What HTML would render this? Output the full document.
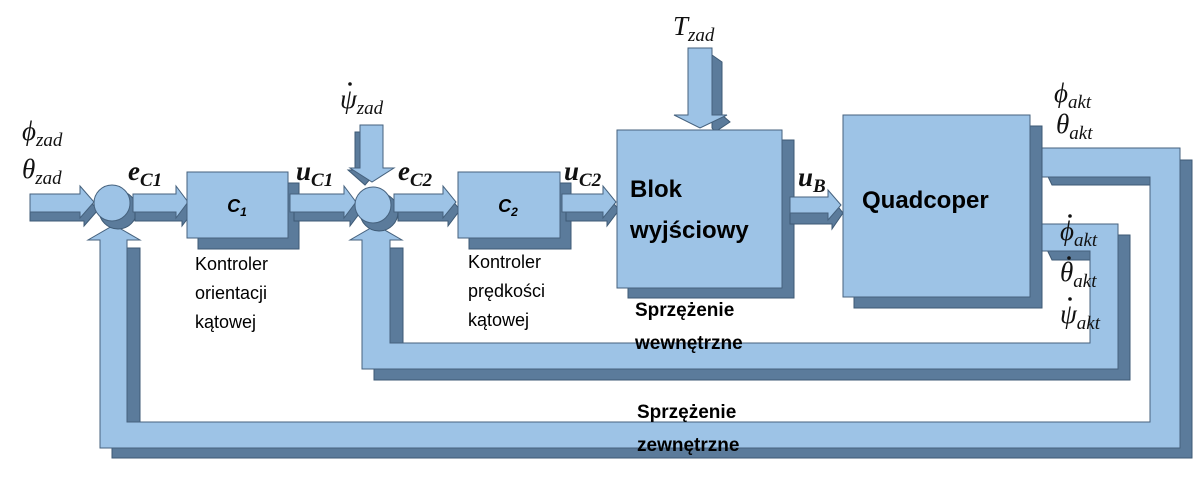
<!DOCTYPE html>
<html><head><meta charset="utf-8"><style>
html,body{margin:0;padding:0;background:#fff}
svg{display:block}
.m{font-family:"Liberation Serif",serif;font-style:italic;font-size:27px;fill:#111}
.s{font-size:19px}
.b{font-weight:bold}
.lab{font-family:"Liberation Sans",sans-serif;font-size:18px;fill:#000}
.bl{font-family:"Liberation Sans",sans-serif;font-weight:bold;fill:#000}
</style></head><body>
<svg width="1202" height="480" viewBox="0 0 1202 480" xmlns="http://www.w3.org/2000/svg">
<defs>
<style>.L{fill:#9dc3e6;stroke:#46627e;stroke-width:1}.D{fill:#5b7b9b;stroke:#3e5a75;stroke-width:1}</style>
</defs>

<!-- outer feedback loop -->
<polygon class="D" points="1040,160 1192,160 1192,458 112,458 112,248 140,248 140,436 1150,436 1150,185 1052,185"/>
<polygon class="L" points="1030,148 1180,148 1180,448 100,448 100,240 88,240 114,225 140,240 127,240 127,422 1150,422 1150,177 1030,177"/>
<!-- inner feedback loop -->
<polygon class="D" points="1040,235 1130,235 1130,380 374,380 374,248 403,248 403,358 1118,358 1118,260 1052,260"/>
<polygon class="L" points="1030,224 1118,224 1118,369 362,369 362,240 350,240 376,225 402,240 390,240 390,343 1090,343 1090,251 1030,251"/>

<!-- input arrow -->
<polygon class="D" points="30,203 84,203 84,195 98,210 84,226 84,221 30,221"/>
<polygon class="L" points="30,194 80,194 80,186 94,202 80,218 80,212 30,212"/>
<circle cx="118" cy="210" r="19" class="D"/>
<circle cx="112" cy="203" r="18" class="L"/>
<polygon class="D" points="135,203 182,203 182,195 194,210 182,226 182,221 135,221"/>
<polygon class="L" points="133,194 176,194 176,186 188,202 176,218 176,212 133,212"/>
<rect x="198" y="183" width="101" height="66" class="D"/>
<rect x="187" y="172" width="101" height="66" class="L"/>
<text x="237" y="212" class="bl" font-size="18" text-anchor="middle" font-style="italic">C<tspan font-size="12" dy="4">1</tspan></text>
<polygon class="D" points="294,203 350,203 350,195 362,210 350,226 350,221 294,221"/>
<polygon class="L" points="290,194 344,194 344,186 356,202 344,218 344,212 290,212"/>
<polygon class="D" points="355,132 368,132 368,170 378,170 365,185 348,170 355,170"/>
<polygon class="L" points="360,125 383,125 383,168 394,168 372,182 350,168 360,168"/>
<circle cx="379" cy="212" r="19" class="D"/>
<circle cx="373" cy="205" r="18" class="L"/>
<polygon class="D" points="398,203 448,203 448,195 460,210 448,226 448,221 398,221"/>
<polygon class="L" points="394,194 443,194 443,186 456,202 443,218 443,212 394,212"/>
<rect x="469" y="183" width="102" height="66" class="D"/>
<rect x="458" y="172" width="102" height="66" class="L"/>
<text x="508" y="212" class="bl" font-size="18" text-anchor="middle" font-style="italic">C<tspan font-size="12" dy="4">2</tspan></text>
<polygon class="D" points="566,203 607,203 607,195 619,210 607,226 607,221 566,221"/>
<polygon class="L" points="562,194 603,194 603,186 616,202 603,218 603,212 562,212"/>
<polygon class="D" points="712,55 722,62 722,115 730,122 715,132 712,128"/>
<polygon class="L" points="688,48 712,48 712,115 727,115 700,128 674,115 688,115"/>
<rect x="628" y="140" width="166" height="158" class="D"/>
<rect x="617" y="130" width="165" height="158" class="L"/>
<text x="630" y="197" class="bl" font-size="24">Blok</text>
<text x="630" y="238" class="bl" font-size="24">wyjściowy</text>
<polygon class="D" points="790,207 832,207 832,199 843,213 832,229 832,224 790,224"/>
<polygon class="L" points="790,197 828,197 828,190 841,205 828,220 828,213 790,213"/>
<rect x="854" y="126" width="188" height="182" class="D"/>
<rect x="843" y="115" width="187" height="182" class="L"/>
<text x="862" y="208" class="bl" font-size="24">Quadcoper</text>

<!-- math labels -->
<text x="22" y="140" class="m">ϕ<tspan class="s" dy="6">zad</tspan></text>
<text x="22" y="178" class="m">θ<tspan class="s" dy="6">zad</tspan></text>
<text x="128" y="180" class="m b">e<tspan class="s" dy="6">C1</tspan></text>
<text x="296" y="180" class="m b">u<tspan class="s" dy="6">C1</tspan></text>
<text x="340" y="108" class="m">ψ<tspan class="s" dy="6">zad</tspan></text>
<circle cx="350" cy="84" r="1.8" fill="#111"/>
<text x="398" y="180" class="m b">e<tspan class="s" dy="6">C2</tspan></text>
<text x="564" y="180" class="m b">u<tspan class="s" dy="6">C2</tspan></text>
<text x="673" y="35" class="m">T<tspan class="s" dy="6">zad</tspan></text>
<text x="798" y="186" class="m b">u<tspan class="s" dy="6">B</tspan></text>
<text x="1054" y="102" class="m">ϕ<tspan class="s" dy="6">akt</tspan></text>
<text x="1056" y="133" class="m">θ<tspan class="s" dy="6">akt</tspan></text>
<text x="1060" y="240" class="m">ϕ<tspan class="s" dy="6">akt</tspan></text>
<circle cx="1070" cy="216" r="1.8" fill="#111"/>
<text x="1060" y="281" class="m">θ<tspan class="s" dy="6">akt</tspan></text>
<circle cx="1069" cy="258" r="1.8" fill="#111"/>
<text x="1060" y="323" class="m">ψ<tspan class="s" dy="6">akt</tspan></text>
<circle cx="1070" cy="299" r="1.8" fill="#111"/>

<text x="195" y="270" class="lab">Kontroler</text>
<text x="195" y="299" class="lab">orientacji</text>
<text x="195" y="328" class="lab">kątowej</text>
<text x="468" y="268" class="lab">Kontroler</text>
<text x="468" y="297" class="lab">prędkości</text>
<text x="468" y="326" class="lab">kątowej</text>

<text x="635" y="316" class="bl" font-size="19">Sprzężenie</text>
<text x="635" y="349" class="bl" font-size="19">wewnętrzne</text>
<text x="637" y="418" class="bl" font-size="19">Sprzężenie</text>
<text x="637" y="451" class="bl" font-size="19">zewnętrzne</text>
</svg>
</body></html>
